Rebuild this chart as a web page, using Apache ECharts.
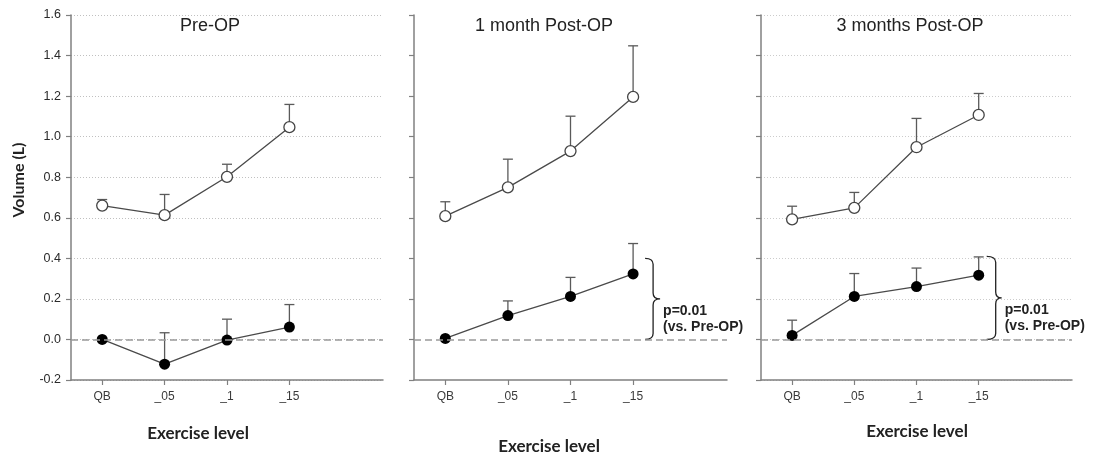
<!DOCTYPE html>
<html>
<head>
<meta charset="utf-8">
<script src="https://cdn.jsdelivr.net/npm/echarts@6/dist/echarts.min.js"></script>
<style>html,body{margin:0;padding:0;background:#fff;}#c{width:1104px;height:453px;}</style>
</head>
<body>
<div id="c"></div>
<script>
const categories = ['QB', '_05', '_1', '_15'];
const yTickMin = -0.2, yTickMax = 1.6, yTickStep = 0.2;

const preOpen = [0.66, 0.613, 0.802, 1.047];
const preOpenErr = [0.69, 0.715, 0.864, 1.159];
const preFilled = [0.0, -0.122, -0.003, 0.061];
const preFilledErr = [0.0, 0.033, 0.10, 0.172];

const m1Open = [0.608, 0.75, 0.929, 1.196];
const m1OpenErr = [0.679, 0.889, 1.101, 1.448];
const m1Filled = [0.005, 0.118, 0.212, 0.323];
const m1FilledErr = [0.005, 0.19, 0.306, 0.473];

const m3Open = [0.592, 0.649, 0.948, 1.107];
const m3OpenErr = [0.657, 0.725, 1.09, 1.213];
const m3Filled = [0.02, 0.212, 0.261, 0.317];
const m3FilledErr = [0.095, 0.325, 0.352, 0.407];

const panelTitles = ['Pre-OP', '1 month Post-OP', '3 months Post-OP'];
const braceM1 = [0, 0.40];
const braceM3 = [0, 0.41];
const pText = ['p=0.01', '(vs. Pre-OP)'];

const chart = echarts.init(document.getElementById('c'));

const grids = [
  { left: 71, width: 312, top: 15, height: 365 },
  { left: 414, width: 313, top: 15, height: 365 },
  { left: 761, width: 311, top: 15, height: 365 }
];
const gridColors = ['#c0c0c0', null, '#cccccc'];

const xAxes = grids.map((g, i) => ({
  type: 'category', gridIndex: i, data: categories.concat(['']),
  boundaryGap: true,
  axisLine: { onZero: false, lineStyle: { color: '#808080', width: 1.5 } },
  axisTick: { show: true, alignWithLabel: true, length: 5, interval: (idx) => idx < categories.length, lineStyle: { color: '#808080', width: 1.2 } },
  axisLabel: { interval: 0, color: '#3a3a3a', fontSize: 12, fontFamily: 'Liberation Sans, Arial', margin: 11 },
  splitLine: { show: false }
}));
const yAxes = grids.map((g, i) => ({
  type: 'value', gridIndex: i, min: yTickMin, max: yTickMax, interval: yTickStep,
  axisLine: { show: true, lineStyle: { color: '#808080', width: 1.5 } },
  axisTick: { show: true, length: 5, lineStyle: { color: '#808080', width: 1.2 } },
  axisLabel: { show: i === 0, color: '#2a2a2a', fontSize: 12.5, fontFamily: 'Liberation Sans, Arial', margin: 10, formatter: v => v.toFixed(1) },
  splitLine: gridColors[i] ? { show: true, lineStyle: { color: gridColors[i], type: [1, 2], width: 1 } } : { show: false }
}));

function errRender(params, api) {
  const x = api.value(0), lo = api.value(1), hi = api.value(2);
  if (!(hi > lo)) return null;
  const p1 = api.coord([x, lo]);
  const p2 = api.coord([x, hi]);
  const st = { stroke: '#5a5a5a', lineWidth: 1.3 };
  return { type: 'group', children: [
    { type: 'line', shape: { x1: p1[0], y1: p1[1], x2: p2[0], y2: p2[1] }, style: st },
    { type: 'line', shape: { x1: p2[0] - 5, y1: p2[1], x2: p2[0] + 5, y2: p2[1] }, style: st }
  ] };
}

function braceRenderFactory(offEnd, offMid, offTip) {
  return function (params, api) {
    const x = api.value(0);
    const pTop = api.coord([x, api.value(2)]);
    const pBot = api.coord([x, api.value(1)]);
    const xe = pTop[0] + offEnd, xv = pTop[0] + offMid, xt = pTop[0] + offTip;
    const yt = pTop[1], yb = pBot[1], ym = (yt + yb) / 2;
    const r = 6;
    const d = `M${xe},${yt} Q${xv},${yt} ${xv},${yt + r} L${xv},${ym - r} Q${xv},${ym} ${xt},${ym} Q${xv},${ym} ${xv},${ym + r} L${xv},${yb - r} Q${xv},${yb} ${xe},${yb}`;
    return { type: 'group', children: [
      { type: 'path', shape: { pathData: d }, style: { stroke: '#222', lineWidth: 1.3, fill: null } },
      { type: 'text', x: xt + 3, y: ym + 12, style: { text: pText[0], fill: '#222', font: 'bold 14px "Liberation Sans", Arial', textVerticalAlign: 'middle' } },
      { type: 'text', x: xt + 3, y: ym + 28, style: { text: pText[1], fill: '#222', font: 'bold 14px "Liberation Sans", Arial', textVerticalAlign: 'middle' } }
    ] };
  };
}

const panels = [
  { open: preOpen, openErr: preOpenErr, filled: preFilled, filledErr: preFilledErr, brace: null },
  { open: m1Open, openErr: m1OpenErr, filled: m1Filled, filledErr: m1FilledErr, brace: braceM1, offs: [12, 20, 27] },
  { open: m3Open, openErr: m3OpenErr, filled: m3Filled, filledErr: m3FilledErr, brace: braceM3, offs: [8, 17, 23] }
];

const series = [];
panels.forEach((p, i) => {
  series.push({
    type: 'custom', xAxisIndex: i, yAxisIndex: i, z: 2,
    renderItem: errRender, encode: { x: 0, y: [1, 2] },
    data: p.open.map((v, k) => [k, v, p.openErr[k]]).concat(p.filled.map((v, k) => [k, v, p.filledErr[k]]))
  });
  series.push({
    type: 'line', xAxisIndex: i, yAxisIndex: i, z: 3,
    data: p.filled, symbol: 'circle', symbolSize: 11,
    itemStyle: { color: '#000' }, lineStyle: { color: '#4a4a4a', width: 1.3 },
    markLine: { silent: true, symbol: ['none', 'none'], label: { show: false },
      lineStyle: { color: '#999', type: [7, 4], width: 1.5 }, data: [{ yAxis: 0 }] }
  });
  series.push({
    type: 'line', xAxisIndex: i, yAxisIndex: i, z: 3,
    data: p.open, symbol: 'circle', symbolSize: 11,
    itemStyle: { color: '#fff', borderColor: '#444', borderWidth: 1.3 }, lineStyle: { color: '#4a4a4a', width: 1.3 }
  });
  if (p.brace) {
    series.push({
      type: 'custom', xAxisIndex: i, yAxisIndex: i, z: 4,
      renderItem: braceRenderFactory(p.offs[0], p.offs[1], p.offs[2]),
      encode: { x: 0, y: [1, 2] },
      data: [[categories.length - 1, p.brace[0], p.brace[1]]]
    });
  }
});

const titleX = [210, 544, 910];
const xNameX = [198, 549, 917];
const xNameY = [434, 447, 432];
const graphic = [];
panelTitles.forEach((t, i) => {
  graphic.push({ type: 'text', x: titleX[i], y: 26, style: { text: t, fill: '#222', font: '18px "Liberation Sans", Arial', textAlign: 'center', textVerticalAlign: 'middle' } });
  graphic.push({ type: 'text', x: xNameX[i], y: xNameY[i], style: { text: 'Exercise level', fill: '#222', font: 'bold 17px Lato, "Liberation Sans"', textAlign: 'center', textVerticalAlign: 'middle' } });
});
graphic.push({ type: 'text', x: 19, y: 180, rotation: Math.PI / 2, style: { text: 'Volume (L)', fill: '#222', font: 'bold 16px Lato, "Liberation Sans"', textAlign: 'center', textVerticalAlign: 'middle' } });

chart.setOption({
  animation: false,
  backgroundColor: '#fff',
  grid: grids,
  xAxis: xAxes,
  yAxis: yAxes,
  series: series,
  graphic: graphic
});
</script>
</body>
</html>
